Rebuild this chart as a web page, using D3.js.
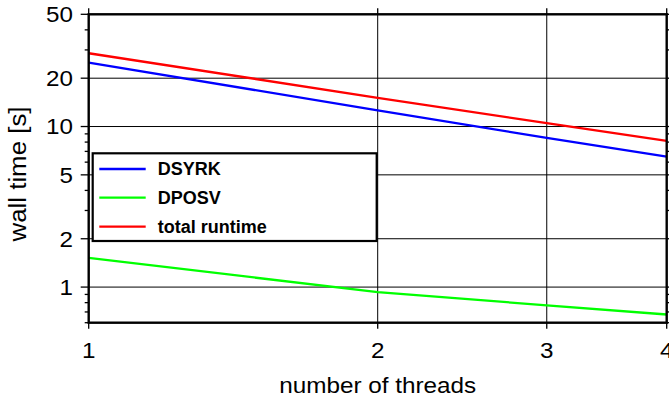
<!DOCTYPE html>
<html>
<head>
<meta charset="utf-8">
<script src="https://cdn.jsdelivr.net/npm/d3@7"></script>
<style>
  body { margin: 0; background: #fff; }
  svg text { font-family: "Liberation Sans", Arial, Helvetica, sans-serif; fill: #000; }
</style>
</head>
<body>
<div id="chart"></div>
<script>
// data
const threads = [1, 2, 3, 4];
const dsyrk = [25.0, 12.6, 8.5, 6.5];
const dposv = [1.52, 0.93, 0.77, 0.675];
const total = [28.6, 15.1, 10.5, 8.15];

const seriesNames = ['DSYRK', 'DPOSV', 'total runtime'];
const seriesColors = ['#0000ff', '#00ff00', '#ff0000'];
const xTickValues = [1, 2, 3, 4];
const yLabelValues = [1, 2, 5, 10, 20, 50];

const width = 669, height = 399;
const plot = {left: 88.7, right: 666.7, top: 14.3, bottom: 322.7};

const svg = d3.select('#chart').append('svg')
    .attr('width', width)
    .attr('height', height);

const x = d3.scaleLog().domain([1, 4]).range([plot.left, plot.right]);
const y = d3.scaleLog().domain([0.6, 50]).range([plot.bottom, plot.top]);

svg.append('defs').append('clipPath').attr('id', 'clip')
  .append('rect')
    .attr('x', plot.left).attr('y', plot.top)
    .attr('width', plot.right - plot.left)
    .attr('height', plot.bottom - plot.top);

// grid
const grid = svg.append('g').attr('stroke', '#000').attr('stroke-width', 1);
grid.selectAll('.hgrid')
    .data(yLabelValues.filter(v => v < 50))
  .join('line')
    .attr('x1', plot.left).attr('x2', plot.right)
    .attr('y1', d => y(d)).attr('y2', d => y(d));
grid.selectAll('.vgrid')
    .data(xTickValues.filter(v => v > 1 && v < 4))
  .join('line')
    .attr('y1', plot.top).attr('y2', plot.bottom)
    .attr('x1', d => x(d)).attr('x2', d => x(d));

// ticks, outward on all four sides
const ticks = svg.append('g').attr('stroke', '#000').attr('stroke-width', 1.3);
const yTicks = y.ticks();
const isMajor = v => yLabelValues.includes(v);
ticks.selectAll('.yl')
    .data(yTicks)
  .join('line')
    .attr('x1', d => plot.left - (isMajor(d) ? 8 : 4)).attr('x2', plot.left)
    .attr('y1', d => y(d)).attr('y2', d => y(d));
ticks.selectAll('.yr')
    .data(yTicks)
  .join('line')
    .attr('x1', plot.right).attr('x2', d => plot.right + (isMajor(d) ? 8 : 4))
    .attr('y1', d => y(d)).attr('y2', d => y(d));
ticks.selectAll('.xb')
    .data(xTickValues)
  .join('line')
    .attr('x1', d => x(d)).attr('x2', d => x(d))
    .attr('y1', plot.bottom).attr('y2', plot.bottom + 6);
ticks.selectAll('.xt')
    .data(xTickValues)
  .join('line')
    .attr('x1', d => x(d)).attr('x2', d => x(d))
    .attr('y1', plot.top - 6).attr('y2', plot.top);

// tick labels
svg.selectAll('.ylabel')
    .data(yLabelValues)
  .join('text')
    .attr('class', 'ylabel')
    .attr('text-anchor', 'end')
    .attr('font-size', 22)
    .attr('transform', d => `translate(73,${y(d) + 7.8}) scale(1.1,1)`)
    .text(d => d);

svg.selectAll('.xlabel')
    .data(xTickValues)
  .join('text')
    .attr('class', 'xlabel')
    .attr('text-anchor', 'middle')
    .attr('font-size', 22)
    .attr('transform', d => `translate(${x(d)},358) scale(1.1,1)`)
    .text(d => d);

// axis titles
svg.append('text')
    .attr('x', (plot.left + plot.right) / 2)
    .attr('y', 393)
    .attr('text-anchor', 'middle')
    .attr('font-size', 22)
    .attr('textLength', 197)
    .attr('lengthAdjust', 'spacingAndGlyphs')
    .text('number of threads');

svg.append('text')
    .attr('transform', 'translate(26,174) rotate(-90)')
    .attr('text-anchor', 'middle')
    .attr('font-size', 23)
    .attr('textLength', 135)
    .attr('lengthAdjust', 'spacingAndGlyphs')
    .text('wall time [s]');

// lines
const allSeries = [dsyrk, dposv, total];
const line = d3.line()
    .x((d, i) => x(threads[i]))
    .y(d => y(d));

svg.append('g').attr('clip-path', 'url(#clip)')
  .selectAll('path')
    .data(allSeries)
  .join('path')
    .attr('fill', 'none')
    .attr('stroke', (d, i) => seriesColors[i])
    .attr('stroke-width', 2.3)
    .attr('d', line);

// legend
const legend = svg.append('g');
legend.append('rect')
    .attr('x', 92.7).attr('y', 153.3)
    .attr('width', 284).attr('height', 87.7)
    .attr('fill', '#fff')
    .attr('stroke', '#000')
    .attr('stroke-width', 2.2);

const legendY = [169, 197.7, 226.7];
legend.selectAll('.lline')
    .data(seriesNames)
  .join('line')
    .attr('x1', 99.3).attr('x2', 145.7)
    .attr('y1', (d, i) => legendY[i]).attr('y2', (d, i) => legendY[i])
    .attr('stroke', (d, i) => seriesColors[i])
    .attr('stroke-width', 2.3);
legend.selectAll('.ltext')
    .data(seriesNames)
  .join('text')
    .attr('x', 157.7)
    .attr('y', (d, i) => legendY[i] + 6.4)
    .attr('font-size', 18)
    .attr('font-weight', 'bold')
    .text(d => d);

// frame
svg.append('rect')
    .attr('x', plot.left).attr('y', plot.top)
    .attr('width', plot.right - plot.left)
    .attr('height', plot.bottom - plot.top)
    .attr('fill', 'none')
    .attr('stroke', '#000')
    .attr('stroke-width', 2.4);
</script>
</body>
</html>
